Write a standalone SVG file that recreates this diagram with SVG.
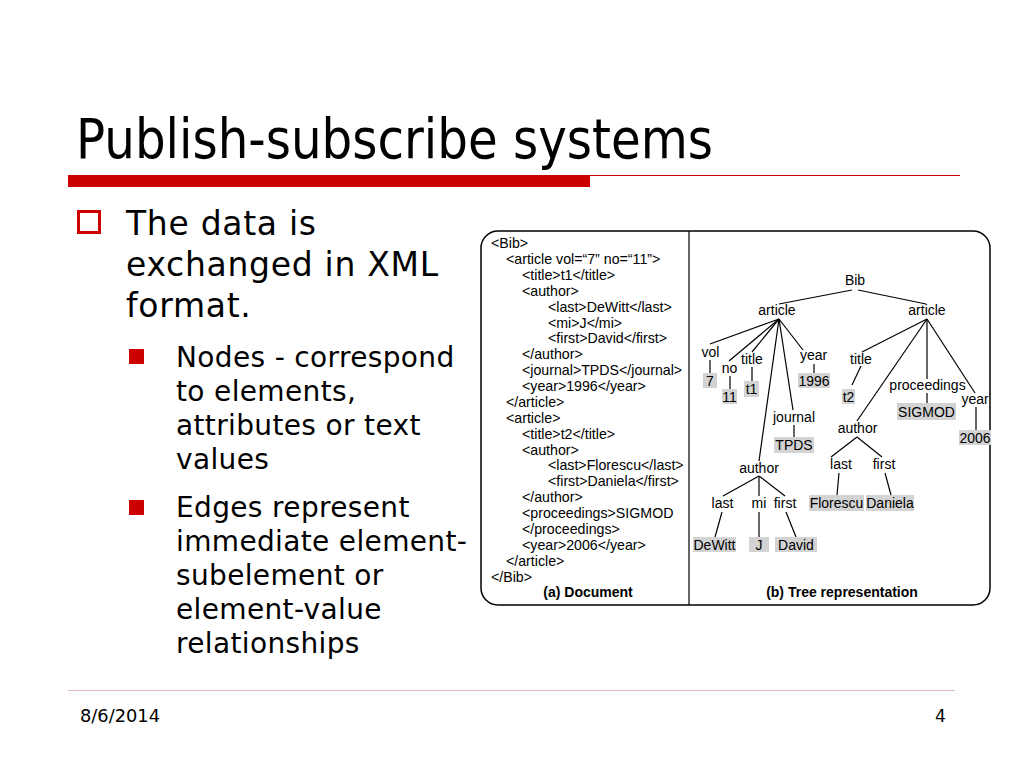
<svg xmlns="http://www.w3.org/2000/svg" width="1024" height="768" viewBox="0 0 1024 768">
<style>
.title{font-family:"DejaVu Sans","Liberation Sans",sans-serif;font-size:55px;fill:#000}
.b1{font-family:"DejaVu Sans","Liberation Sans",sans-serif;font-size:33px;letter-spacing:0.7px;fill:#000}
.b2{font-family:"DejaVu Sans","Liberation Sans",sans-serif;font-size:28px;letter-spacing:0.35px;fill:#000}
.foot{font-family:"DejaVu Sans","Liberation Sans",sans-serif;font-size:17px;fill:#000}
.xml{font-family:"Liberation Sans",Arial,sans-serif;font-size:14.2px;fill:#000}
.cap{font-family:"Liberation Sans",Arial,sans-serif;font-size:14px;font-weight:bold;fill:#000;text-anchor:middle}
.lbl{font-family:"Liberation Sans",Arial,sans-serif;font-size:14px;fill:#000;text-anchor:middle}
.val{fill:#d3d3d3;stroke:none}
.edge{stroke:#000;stroke-width:1.2;fill:none}
</style>
<rect width="1024" height="768" fill="#fff"/>
<!-- header -->
<text class="title" x="76" y="158" textLength="637" lengthAdjust="spacingAndGlyphs">Publish-subscribe systems</text>
<rect x="68" y="175" width="522" height="12" fill="#cc0000"/>
<line x1="590" y1="175.5" x2="960" y2="175.5" stroke="#cc0000" stroke-width="1"/>
<!-- bullets -->
<rect x="78.5" y="211.5" width="21" height="21" fill="none" stroke="#cc0000" stroke-width="3"/>
<text class="b1" x="126" y="235">The data is</text>
<text class="b1" x="126" y="276">exchanged in XML</text>
<text class="b1" x="126" y="317">format.</text>
<rect x="129" y="349" width="15" height="15" fill="#cc0000"/>
<text class="b2" x="176" y="367">Nodes - correspond</text>
<text class="b2" x="176" y="401">to elements,</text>
<text class="b2" x="176" y="435">attributes or text</text>
<text class="b2" x="176" y="469">values</text>
<rect x="129" y="500" width="15" height="15" fill="#cc0000"/>
<text class="b2" x="176" y="517">Edges represent</text>
<text class="b2" x="176" y="551">immediate element-</text>
<text class="b2" x="176" y="585">subelement or</text>
<text class="b2" x="176" y="619">element-value</text>
<text class="b2" x="176" y="653">relationships</text>
<!-- footer -->
<line x1="68" y1="690.5" x2="955" y2="690.5" stroke="#e2b9b9" stroke-width="1"/>
<text class="foot" x="80" y="722" textLength="80" lengthAdjust="spacingAndGlyphs">8/6/2014</text>
<text class="foot" x="935" y="722">4</text>
<!-- figure frame -->
<rect x="481" y="231" width="509" height="374" rx="17" ry="17" fill="none" stroke="#000" stroke-width="1.5"/>
<line x1="689" y1="231" x2="689" y2="605" stroke="#000" stroke-width="1.2"/>
<!-- XML document -->
<g id="document">
<text class="xml" x="491" y="248">&lt;Bib&gt;</text>
<text class="xml" x="506" y="264">&lt;article vol=“7” no=“11”&gt;</text>
<text class="xml" x="522" y="280">&lt;title&gt;t1&lt;/title&gt;</text>
<text class="xml" x="522" y="296">&lt;author&gt;</text>
<text class="xml" x="548" y="312">&lt;last&gt;DeWitt&lt;/last&gt;</text>
<text class="xml" x="548" y="328">&lt;mi&gt;J&lt;/mi&gt;</text>
<text class="xml" x="548" y="343">&lt;first&gt;David&lt;/first&gt;</text>
<text class="xml" x="522" y="359">&lt;/author&gt;</text>
<text class="xml" x="522" y="375">&lt;journal&gt;TPDS&lt;/journal&gt;</text>
<text class="xml" x="522" y="391">&lt;year&gt;1996&lt;/year&gt;</text>
<text class="xml" x="506" y="407">&lt;/article&gt;</text>
<text class="xml" x="506" y="423">&lt;article&gt;</text>
<text class="xml" x="522" y="439">&lt;title&gt;t2&lt;/title&gt;</text>
<text class="xml" x="522" y="455">&lt;author&gt;</text>
<text class="xml" x="548" y="470">&lt;last&gt;Florescu&lt;/last&gt;</text>
<text class="xml" x="548" y="486">&lt;first&gt;Daniela&lt;/first&gt;</text>
<text class="xml" x="522" y="502">&lt;/author&gt;</text>
<text class="xml" x="522" y="518">&lt;proceedings&gt;SIGMOD</text>
<text class="xml" x="522" y="534">&lt;/proceedings&gt;</text>
<text class="xml" x="522" y="550">&lt;year&gt;2006&lt;/year&gt;</text>
<text class="xml" x="506" y="566">&lt;/article&gt;</text>
<text class="xml" x="491" y="582">&lt;/Bib&gt;</text>
<text class="cap" x="588" y="597">(a) Document</text>
</g>
<text class="cap" x="842" y="597">(b) Tree representation</text>
<!-- connectors -->
<g id="connectors" class="edge">
<line x1="852" y1="290" x2="779" y2="304"/>
<line x1="858" y1="290" x2="926" y2="304"/>
<line x1="779" y1="319" x2="710" y2="344"/>
<line x1="779" y1="319" x2="729" y2="361"/>
<line x1="779" y1="319" x2="752" y2="352"/>
<line x1="779" y1="319" x2="803" y2="350"/>
<line x1="779" y1="319" x2="793" y2="410"/>
<line x1="779" y1="319" x2="759" y2="461"/>
<line x1="710" y1="360" x2="710" y2="373"/>
<line x1="730" y1="376" x2="730" y2="389"/>
<line x1="752" y1="367" x2="752" y2="381"/>
<line x1="814" y1="364" x2="814" y2="373"/>
<line x1="794" y1="425" x2="794" y2="437"/>
<line x1="759" y1="476" x2="723" y2="496"/>
<line x1="759" y1="476" x2="759" y2="496"/>
<line x1="759" y1="476" x2="785" y2="496"/>
<line x1="722" y1="512" x2="715" y2="537"/>
<line x1="759" y1="512" x2="759" y2="537"/>
<line x1="786" y1="512" x2="796" y2="537"/>
<line x1="927" y1="319" x2="862" y2="352"/>
<line x1="927" y1="319" x2="857" y2="421"/>
<line x1="927" y1="319" x2="927" y2="379"/>
<line x1="927" y1="319" x2="975" y2="393"/>
<line x1="861" y1="366" x2="852" y2="385"/>
<line x1="927" y1="393" x2="927" y2="403"/>
<line x1="976" y1="407" x2="976" y2="430"/>
<line x1="857" y1="437" x2="831" y2="457"/>
<line x1="857" y1="437" x2="882" y2="457"/>
<line x1="839" y1="473" x2="837" y2="495"/>
<line x1="885" y1="473" x2="891" y2="495"/>
</g>
<!-- tree nodes -->
<g id="n-bib"><text class="lbl" x="855" y="285">Bib</text></g>
<g id="n-article1"><text class="lbl" x="777" y="315">article</text></g>
<g id="n-article2"><text class="lbl" x="927" y="315">article</text></g>
<g id="n-vol"><text class="lbl" x="710.5" y="357">vol</text></g>
<g id="n-no"><text class="lbl" x="729.5" y="372.5">no</text></g>
<g id="n-title1"><text class="lbl" x="752" y="364">title</text></g>
<g id="n-year1"><text class="lbl" x="813.5" y="360">year</text></g>
<g id="n-journal"><text class="lbl" x="794" y="421.5">journal</text></g>
<g id="n-author1"><text class="lbl" x="759" y="473">author</text></g>
<g id="n-last1"><text class="lbl" x="722.5" y="508">last</text></g>
<g id="n-mi"><text class="lbl" x="759" y="508">mi</text></g>
<g id="n-first1"><text class="lbl" x="785" y="508">first</text></g>
<g id="n-title2"><text class="lbl" x="861" y="364">title</text></g>
<g id="n-proceedings"><text class="lbl" x="927.5" y="390">proceedings</text></g>
<g id="n-year2"><text class="lbl" x="975" y="403.5">year</text></g>
<g id="n-author2"><text class="lbl" x="857.5" y="433">author</text></g>
<g id="n-last2"><text class="lbl" x="841" y="469">last</text></g>
<g id="n-first2"><text class="lbl" x="884" y="469">first</text></g>
<g id="v-7"><rect class="val" x="703" y="373" width="14" height="15"/><text class="lbl" x="710" y="385.5">7</text></g>
<g id="v-11"><rect class="val" x="722" y="389" width="15" height="15"/><text class="lbl" x="729.5" y="401.5">11</text></g>
<g id="v-t1"><rect class="val" x="744" y="381" width="15" height="16"/><text class="lbl" x="751.5" y="394">t1</text></g>
<g id="v-1996"><rect class="val" x="798" y="373" width="32" height="15"/><text class="lbl" x="814" y="385.5">1996</text></g>
<g id="v-tpds"><rect class="val" x="774" y="437" width="40" height="16"/><text class="lbl" x="794" y="450">TPDS</text></g>
<g id="v-dewitt"><rect class="val" x="693" y="537" width="43" height="15"/><text class="lbl" x="714.5" y="549.5">DeWitt</text></g>
<g id="v-j"><rect class="val" x="749" y="537" width="20" height="15"/><text class="lbl" x="759" y="549.5">J</text></g>
<g id="v-david"><rect class="val" x="775" y="537" width="42" height="15"/><text class="lbl" x="796" y="549.5">David</text></g>
<g id="v-t2"><rect class="val" x="842" y="389" width="13" height="15"/><text class="lbl" x="848.5" y="401.5">t2</text></g>
<g id="v-sigmod"><rect class="val" x="897" y="403" width="59" height="17"/><text class="lbl" x="926.5" y="416.5">SIGMOD</text></g>
<g id="v-2006"><rect class="val" x="959" y="430" width="32" height="15"/><text class="lbl" x="975" y="442.5">2006</text></g>
<g id="v-florescu"><rect class="val" x="809" y="495" width="55" height="16"/><text class="lbl" x="836.5" y="508">Florescu</text></g>
<g id="v-daniela"><rect class="val" x="866" y="495" width="48" height="16"/><text class="lbl" x="890" y="508">Daniela</text></g>
</svg>
